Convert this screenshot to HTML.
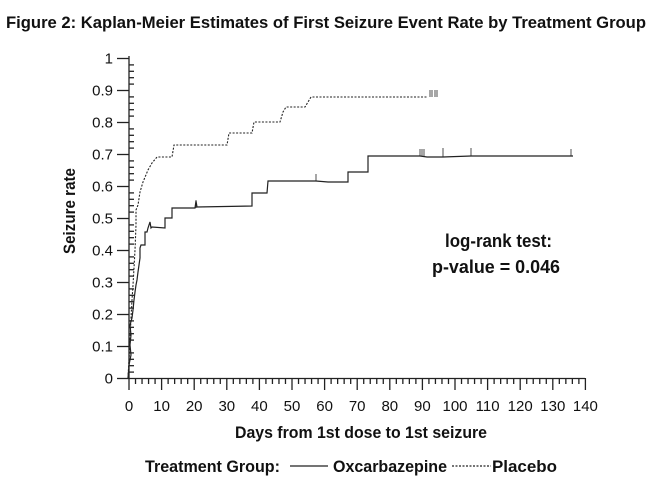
<!DOCTYPE html>
<html><head><style>
body{margin:0;background:#fff;}
svg{display:block;}
text{font-family:"Liberation Sans Narrow","Liberation Sans",sans-serif;fill:#111;}
</style></head><body>
<svg width="657" height="484" viewBox="0 0 657 484" xmlns="http://www.w3.org/2000/svg">
<text x="6" y="28" font-size="17" font-weight="bold" textLength="640" lengthAdjust="spacingAndGlyphs">Figure 2: Kaplan-Meier Estimates of First Seizure Event Rate by Treatment Group</text>
<g stroke="#222" stroke-width="1.3" fill="none">
<line x1="129" y1="56" x2="129" y2="379"/>
<line x1="129" y1="378.5" x2="585" y2="378.5"/>
<g id="yt"></g><g id="xt"></g>
</g>
<g font-size="15" text-anchor="end" id="yl"></g>
<g font-size="15" text-anchor="middle" id="xl"></g>
<text x="0" y="0" font-size="17" font-weight="bold" textLength="86" lengthAdjust="spacingAndGlyphs" transform="translate(75,254) rotate(-90)">Seizure rate</text>
<text x="235" y="438" font-size="17" font-weight="bold" textLength="252" lengthAdjust="spacingAndGlyphs">Days from 1st dose to 1st seizure</text>
<text x="445" y="247" font-size="18" font-weight="bold" textLength="107" lengthAdjust="spacingAndGlyphs">log-rank test:</text>
<text x="432" y="273" font-size="18" font-weight="bold" textLength="128" lengthAdjust="spacingAndGlyphs">p-value = 0.046</text>
<text x="145" y="472" font-size="17" font-weight="bold" textLength="135" lengthAdjust="spacingAndGlyphs">Treatment Group:</text>
<line x1="290" y1="466" x2="328" y2="466" stroke="#222" stroke-width="1.2"/>
<text x="333" y="472" font-size="17" font-weight="bold" textLength="114" lengthAdjust="spacingAndGlyphs">Oxcarbazepine</text>
<line x1="452" y1="466" x2="491" y2="466" stroke="#222" stroke-width="1.2" stroke-dasharray="2,1.5"/>
<text x="492" y="472" font-size="17" font-weight="bold" textLength="65" lengthAdjust="spacingAndGlyphs">Placebo</text>
<polyline fill="none" stroke="#222" stroke-width="1.2" points="128,378 129,365 131,355 130,345 131,335 130,325 132,318 133,310 134,300 135,292 136,285 137,280 138,272 139,265 140,258 140,248 141,245 145,245 145,232 147,232 148,228 150,222 151,228 152,227 165,228 165,218 172,218 172,208 195,208 196,201 197,207 252,206 252,193 267,193 268,181 300,181 316,181 328,182 348,182 348,172 368,172 368,156 420,156 427,157 443,157 471,156 573,156"/>
<polyline fill="none" stroke="#222" stroke-width="1.1" stroke-dasharray="2,1.5" points="128,378 129,360 130,340 131,318 132,300 133,285 134,268 135,250 136,225 136,210 138,205 140,192 143,182 148,170 152,163 157,157 172,157 174,145 227,145 229,133 252,133 254,122 280,122 283,112 286,107 305,107 311,97 427,97"/>
<g stroke="#222" stroke-width="0.8">
<line x1="316" y1="174" x2="316" y2="181"/><line x1="196" y1="200" x2="196" y2="208"/>
<line x1="420" y1="149" x2="420" y2="156"/><line x1="422" y1="149" x2="422" y2="156"/><line x1="424" y1="149" x2="424" y2="156"/>
<line x1="443" y1="148" x2="443" y2="157"/><line x1="471" y1="148" x2="471" y2="156"/><line x1="571" y1="149" x2="571" y2="156"/>
<line x1="430" y1="90" x2="430" y2="97"/><line x1="432" y1="90" x2="432" y2="97"/><line x1="435" y1="90" x2="435" y2="97"/><line x1="437" y1="90" x2="437" y2="97"/>
</g>
<script>
var ns="http://www.w3.org/2000/svg";
function L(g,x1,y1,x2,y2){var l=document.createElementNS(ns,"line");l.setAttribute("x1",x1);l.setAttribute("y1",y1);l.setAttribute("x2",x2);l.setAttribute("y2",y2);g.appendChild(l);}
function T(g,x,y,s){var t=document.createElementNS(ns,"text");t.setAttribute("x",x);t.setAttribute("y",y);t.textContent=s;g.appendChild(t);}
var yt=document.getElementById("yt"),xt=document.getElementById("xt"),yl=document.getElementById("yl"),xl=document.getElementById("xl");
for(var i=0;i<=50;i++){var y=378.5-i*6.4;if(i%5==0){L(yt,117,y,129,y);var v=i/50;T(yl,113,y+5,v==0?"0":v==1?"1":v.toFixed(1));}else L(yt,129,y,134,y);}
for(var d=0;d<=140;d+=2){var x=129+d*3.26;if(d%10==0){L(xt,x,378,x,390);T(xl,x,411,String(d));}else L(xt,x,378,x,384);}
</script>
</svg>
</body></html>
